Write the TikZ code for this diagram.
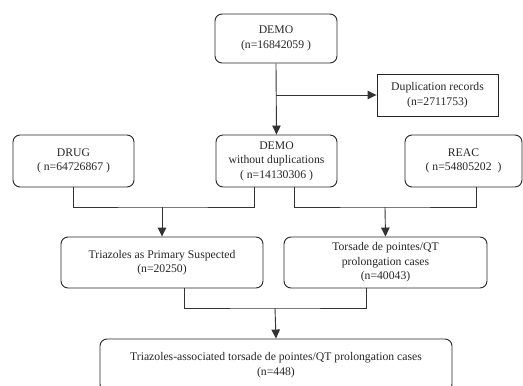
\documentclass[tikz,border=0pt]{standalone}
\usepackage{fontspec}
\setmainfont{Liberation Serif}
\usetikzlibrary{arrows.meta,calc}
\begin{document}
\begin{tikzpicture}[x=1pt,y=-1pt,
  box/.style={draw=black!85,line width=0.9pt,rounded corners=7pt,align=center,inner sep=0pt,
    text=black!85,font=\fontsize{11.7}{14.5}\selectfont},
  sqbox/.style={box,rounded corners=0pt},
  conn/.style={draw=black!80,line width=0.9pt},
  arr/.style={conn,-{Triangle[length=9pt,width=8.5pt]}}]
\useasboundingbox (0,0) rectangle (523,386);
\node[box,minimum width=122pt,minimum height=49pt] (demo) at (276,38.5) {DEMO\\(n=16842059 )};
\node[sqbox,minimum width=121pt,minimum height=42pt] (dup) at (437.5,95) {Duplication records\\(n=2711753)};
\node[box,minimum width=121pt,minimum height=52pt] (drug) at (73.5,161) {DRUG\\( n=64726867 )};
\node[box,minimum width=121pt,minimum height=52pt] (demow) at (276.5,161) {DEMO\\without duplications\\( n=14130306 )};
\node[box,minimum width=117pt,minimum height=52pt] (reac) at (463.5,161) {REAC\\( n=54805202~ )};
\node[box,minimum width=202pt,minimum height=51pt] (tri) at (162,262.5) {Triazoles as Primary Suspected\\(n=20250)};
\node[box,minimum width=203pt,minimum height=51pt] (tdp) at (385.5,262.5) {Torsade de pointes/QT\\prolongation cases\\(n=40043)};
\node[box,minimum width=352pt,minimum height=52pt] (fin) at (276,365) {Triazoles-associated torsade de pointes/QT prolongation cases\\(n=448)};
\path[arr] (demo.south) -- (demow.north);
\path[arr] (demo.south |- dup.west) -- (dup.west);
% left join
\coordinate (jl) at (162,207);
\path[conn] (drug.south) |- (jl) -| ($(demow.south)+(-22.5,0)$);
\path[arr] (jl) -- (tri.north);
% right join
\coordinate (jr) at (385,207);
\path[conn] ($(demow.south)+(17.5,0)$) |- (jr) -| ($(reac.south)+(12.5,0)$);
\path[arr] (jr) -- (tdp.north);
% bottom join
\coordinate (jb) at (275,308);
\path[conn] ($(tri.south)+(22,0)$) |- (jb) -| ($(tdp.south)+(-19.5,0)$);
\path[arr] (jb) -- (fin.north);
\end{tikzpicture}
\end{document}
